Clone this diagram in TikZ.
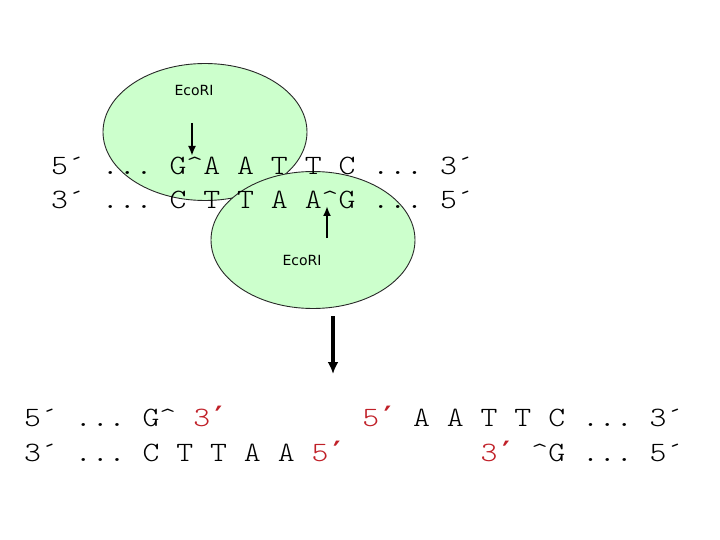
\documentclass[tikz,border=0pt]{standalone}
\usepackage{fontspec}
\setmainfont{Liberation Sans}
\newfontfamily\seqfont[FakeStretch=1.15]{Latin Modern Mono Light}
\newfontfamily\labfont{DejaVu Sans}
\newfontfamily\primefont{DejaVu Sans Mono}
\usetikzlibrary{shapes.geometric,arrows.meta}
\definecolor{enzfill}{RGB}{204,255,204}
\definecolor{enzline}{RGB}{40,40,40}
\definecolor{endred}{RGB}{192,32,40}
\newcommand{\rd}[1]{\textcolor{endred}{#1}}
\newcommand{\ct}{\textasciicircum{}}
\newcommand{\pr}{\makebox[\fontcharwd\font`0][l]{\primefont\bfseries ′}}
\tikzset{
  enzyme/.style={ellipse, draw=enzline, line width=0.9pt, fill=enzfill, minimum width=204pt, minimum height=137pt, inner sep=0pt},
  seq/.style={anchor=base west, inner sep=0pt, font=\seqfont\fontsize{28}{34}\selectfont},
  lab/.style={inner sep=0pt, font=\labfont\fontsize{14}{16}\selectfont},
  cutarrow/.style={line width=2pt, -{Latex[length=10pt,width=8pt]}},
  bigarrow/.style={line width=3.5pt, -{Latex[length=12pt,width=11pt]}}
}
\begin{document}
\begin{tikzpicture}[x=1pt,y=-1pt]
\useasboundingbox (0,0) rectangle (720,540);
% enzymes
\node[enzyme] (e1) at (205,132) {};
\node[enzyme] (e2) at (313,240) {};
\node[lab] (l1) at (194,90) {EcoRI};
\node[lab] (l2) at (302,260) {EcoRI};
% uncut DNA
\node[seq] (t1) at (51,175) {5´~...~G\ct A~A~T~T~C~...~3´};
\node[seq] (t2) at (51,209) {3´~...~C~T~T~A~A\ct G~...~5´};
% cut arrows
\coordinate (a1s) at (192,123);
\coordinate (a1e) at (192,156);
\draw[cutarrow] (a1s) -- (a1e);
\coordinate (a2s) at (327,238);
\coordinate (a2e) at (327,206);
\draw[cutarrow] (a2s) -- (a2e);
\coordinate (bs) at (333,316);
\coordinate (be) at (333,374);
\draw[bigarrow] (bs) -- (be);
% cut DNA
\node[seq] (b1) at (24,426) {5´~...~G\ct~\rd{3\pr}~~~~~~~~\rd{5\pr}~A~A~T~T~C~...~3´};
\node[seq] (b2) at (24,461) {3´~...~C~T~T~A~A~\rd{5\pr}~~~~~~~~\rd{3\pr}~\ct G~...~5´};
\end{tikzpicture}
\end{document}
